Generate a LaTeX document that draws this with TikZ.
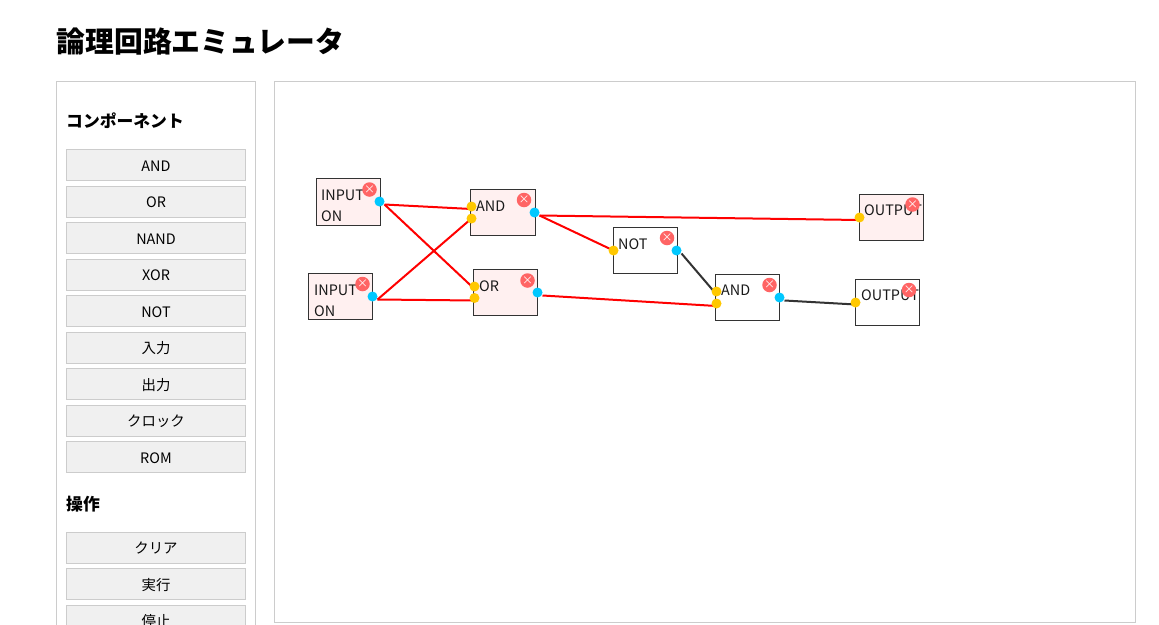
\documentclass[tikz,border=0pt]{standalone}
\usepackage{fontspec}
\setmainfont{Noto Sans CJK JP}
\definecolor{panelline}{HTML}{CCCCCC}
\definecolor{btnfill}{HTML}{F0F0F0}
\definecolor{gateline}{HTML}{333333}
\definecolor{gateon}{HTML}{FFF0F0}
\definecolor{closered}{HTML}{FF6464}
\definecolor{inport}{HTML}{FFC800}
\definecolor{outport}{HTML}{00C8FF}
\pgfdeclarelayer{boxes}
\pgfdeclarelayer{wires}
\pgfsetlayers{boxes,wires,main}
\tikzset{
  panel/.style={draw=panelline,line width=1pt,fill=white},
  btn/.style={draw=panelline,line width=1pt,fill=btnfill,minimum width=179pt,minimum height=31pt,inner sep=0pt,text height=12pt,text depth=0pt,font=\fontsize{14.4}{16}\selectfont},
  heading/.style={anchor=base west,inner sep=0pt,font=\fontsize{16.8}{18}\selectfont\bfseries},
  gate/.style={draw=gateline,line width=1pt,fill=white,minimum width=64pt,minimum height=46pt,anchor=north west,inner sep=0pt,outer sep=0pt},
  gateactive/.style={gate,fill=gateon},
  gatetext/.style={anchor=base west,inner sep=0pt,text=black!90,font=\fontsize{14.4}{16}\selectfont},
  closebtn/.style={circle,fill=closered,minimum size=14.5pt,inner sep=0pt,text=white,font=\fontsize{11}{11}\selectfont},
  inpin/.style={circle,fill=inport,minimum size=10pt,inner sep=0pt},
  outpin/.style={circle,fill=outport,minimum size=10pt,inner sep=0pt},
  wireon/.style={draw=red,line width=2pt},
  wireoff/.style={draw=gateline,line width=2pt},
}
\begin{document}
\begin{tikzpicture}[x=1pt,y=-1pt]
\useasboundingbox (0,0) rectangle (1159,624);
\clip (0,0) rectangle (1159,624);
\node[anchor=base west,inner sep=0pt,font=\fontsize{28.8}{32}\selectfont\bfseries] (title) at (56.5,52) {論理回路エミュレータ};
% panels
\begin{pgfonlayer}{boxes}
\fill[white] (0,0) rectangle (1159,624);
\draw[panel] (56.5,81.5) rectangle (255.5,640);
\draw[panel] (274.5,81.5) rectangle (1135.5,622.5);
\end{pgfonlayer}
\node[heading] (hcomp) at (66,127) {コンポーネント};
\foreach \y/\t in {165/AND,201.5/OR,238/NAND,274.5/XOR,311/NOT,347.5/入力,384/出力,420.5/クロック,457/ROM,547.5/クリア,584/実行,620.5/停止}
  \node[btn] at (156,\y) {\t};
\node[heading] (hop) at (66,510) {操作};
% gates
\begin{pgfonlayer}{boxes}
\node[gateactive,minimum height=47pt] (in1) at (316.5,178.5) {};
\node[gateactive] (in2) at (308.5,273.5) {};
\node[gateactive,minimum width=65pt] (and1) at (470.5,189.5) {};
\node[gateactive] (or1) at (473.5,269.5) {};
\node[gate] (not1) at (613.5,227.5) {};
\node[gate] (and2) at (715.5,274.5) {};
\node[gateactive] (out1) at (859.5,194.5) {};
\node[gate] (out2) at (855.5,279.5) {};
\end{pgfonlayer}
\node[gatetext] at (321,200) {INPUT};
\node[gatetext] at (321,221) {ON};
\node[gatetext] at (314,295) {INPUT};
\node[gatetext] at (314,316) {ON};
\node[gatetext] at (476,211) {AND};
\node[gatetext] at (479,291) {OR};
\node[gatetext] at (618,249) {NOT};
\node[gatetext] at (721,295) {AND};
\node[gatetext] at (864,215) {OUTPUT};
\node[gatetext] at (861,300) {OUTPUT};
% close buttons
\foreach \x/\y in {369.5/189.5,362.5/284,524/200,527.5/280.5,667/238,769.5/285,912.5/204.5,909/290}
  \node[closebtn] at (\x,\y) {×};
% pins
\node[outpin] (in1q) at (379.5,201.5) {};
\node[outpin] (in2q) at (372.5,296.5) {};
\node[inpin] (and1a) at (471.5,206.5) {};
\node[inpin] (and1b) at (471.5,218.5) {};
\node[outpin] (and1q) at (534.5,212.5) {};
\node[inpin] (or1a) at (474.5,286.5) {};
\node[inpin] (or1b) at (474.5,298) {};
\node[outpin] (or1q) at (537.5,292.5) {};
\node[inpin] (not1a) at (613.5,250.5) {};
\node[outpin] (not1q) at (676.5,250.5) {};
\node[inpin] (and2a) at (716.5,291.5) {};
\node[inpin] (and2b) at (716.5,303.5) {};
\node[outpin] (and2q) at (779.5,297.5) {};
\node[inpin] (out1a) at (859.5,217.5) {};
\node[inpin] (out2a) at (855.5,302.5) {};
% wires
\begin{pgfonlayer}{wires}
\draw[wireon] ([shift={(5,3)}]in1q.center) -- ([yshift=-2.5pt]and1a.center);
\draw[wireon] ([shift={(5,3)}]in1q.center) -- ([yshift=-2.5pt]or1a.center);
\draw[wireon] ([shift={(5,3)}]in2q.center) -- (and1b.center);
\draw[wireon] ([shift={(5,3)}]in2q.center) -- ([yshift=-2.5pt]or1b.center);
\draw[wireon] ([shift={(5,3)}]and1q.center) -- (not1a.center);
\draw[wireon] ([shift={(5,3)}]and1q.center) -- ([yshift=-2.5pt]out1a.center);
\draw[wireon] ([shift={(5,3)}]or1q.center) -- ([yshift=-2.5pt]and2b.center);
\draw[wireoff] ([shift={(5,3)}]not1q.center) -- ([yshift=-3pt]and2a.center);
\draw[wireoff] ([shift={(5,3)}]and2q.center) -- ([yshift=-2pt]out2a.center);
\end{pgfonlayer}
\end{tikzpicture}
\end{document}
